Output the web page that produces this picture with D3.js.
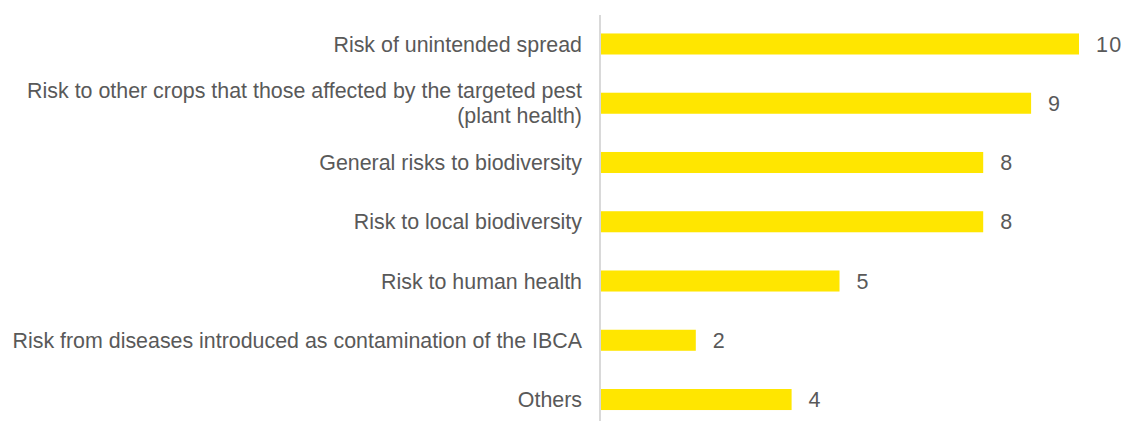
<!DOCTYPE html>
<html><head><meta charset="utf-8">
<script src="https://cdn.jsdelivr.net/npm/d3@7"></script>
<style>body{margin:0;background:#fff;}svg{display:block;}</style>
</head><body>
<script>
const categories = [
  ["Risk of unintended spread"],
  ["Risk to other crops that those affected by the targeted pest", "(plant health)"],
  ["General risks to biodiversity"],
  ["Risk to local biodiversity"],
  ["Risk to human health"],
  ["Risk from diseases introduced as contamination of the IBCA"],
  ["Others"]
];
const values = [10, 9, 8, 8, 5, 2, 4];

const W = 1126, H = 421;
const svg = d3.select("body").append("svg").attr("width", W).attr("height", H);
const x0 = 600;
const x = d3.scaleLinear().domain([0, 10]).range([x0, 1079]);
const y = d3.scaleBand().domain(d3.range(values.length)).range([14.5, 429]).paddingInner(0.645).paddingOuter(0.32);

svg.append("line").attr("x1", x0).attr("x2", x0).attr("y1", 15).attr("y2", H)
  .attr("stroke", "#d9d9d9").attr("stroke-width", 2);

svg.selectAll("rect.bar").data(values).join("rect").attr("class", "bar")
  .attr("x", x0 + 1).attr("y", (d, i) => y(i)).attr("width", d => x(d) - x0 - 1)
  .attr("height", y.bandwidth()).attr("fill", "#FFE600");

svg.selectAll("text.val").data(values).join("text").attr("class", "val")
  .attr("x", d => x(d) + 17).attr("y", (d, i) => y(i) + y.bandwidth() / 2)
  .attr("dy", "0.36em").attr("font-family", "Liberation Sans, Arial, sans-serif")
  .attr("font-size", 21.5).attr("letter-spacing", 1.2).attr("fill", "#595959").text(d => d);

const lab = svg.selectAll("text.lab").data(categories).join("text").attr("class", "lab")
  .attr("font-family", "Liberation Sans, Arial, sans-serif").attr("font-size", 21.4)
  .attr("fill", "#595959").attr("text-anchor", "end");
lab.each(function(lines, i) {
  const t = d3.select(this);
  const cy = y(i) + y.bandwidth() / 2;
  const lh = 25;
  lines.forEach((ln, k) => {
    t.append("tspan").attr("x", 582)
      .attr("y", cy + (k - (lines.length - 1) / 2) * lh)
      .attr("dy", "0.36em").text(ln);
  });
});
</script>
</body></html>
